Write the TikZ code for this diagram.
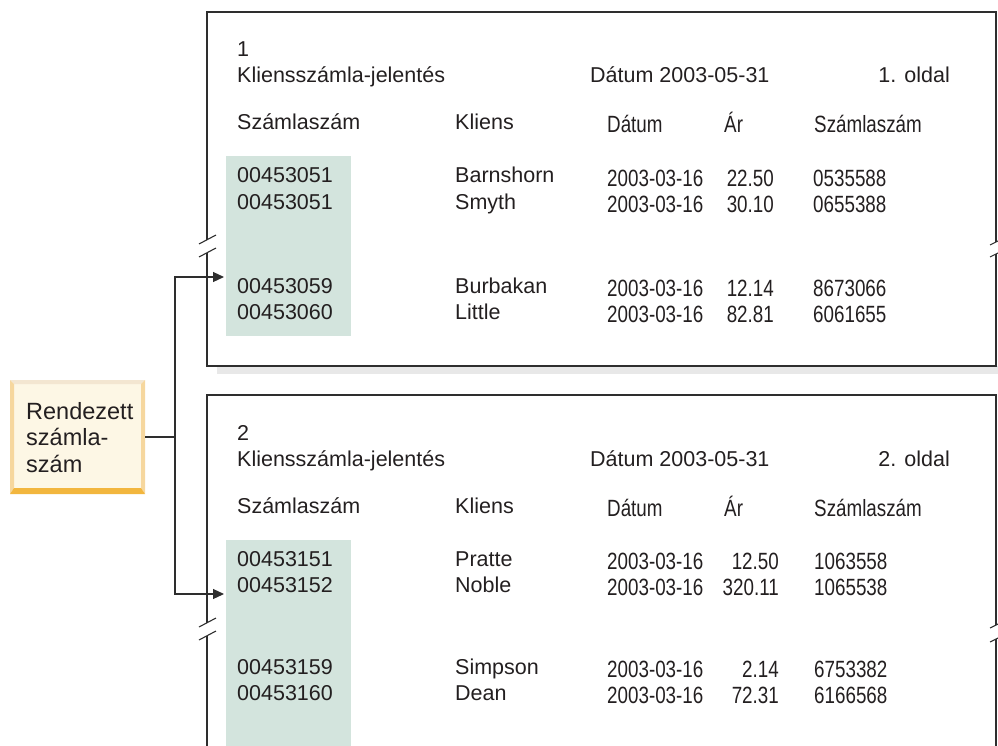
\documentclass[tikz,border=0pt]{standalone}
\usepackage{fontspec}
\setmainfont{Liberation Sans}
\newfontfamily\narrowfont[FakeStretch=0.8]{Liberation Sans}
\usepackage{xcolor}
\usetikzlibrary{arrows.meta}

\definecolor{ink}{HTML}{231F20}
\definecolor{rule}{HTML}{2E2E2E}
\definecolor{keygreen}{HTML}{D3E4DD}
\definecolor{keycream}{HTML}{FDF7E5}
\definecolor{keytop}{HTML}{F3E6D1}
\definecolor{keyside}{HTML}{F6D79E}
\definecolor{keybottom}{HTML}{F2B63E}

\tikzset{
  cell/.style={anchor=base west, inner sep=0pt, text=ink},
  ncell/.style={cell, font=\fontsize{23.5}{28}\narrowfont},
  pageline/.style={draw=rule, line width=1.4pt},
  keyline/.style={draw=rule, line width=1.2pt},
  brk/.style={draw=rule, line width=1.1pt}
}

\begin{document}
\begin{tikzpicture}[x=1pt,y=-1pt,font=\fontsize{21.5}{26}\selectfont]
\useasboundingbox (0,0) rectangle (998,746);

% page 1
\fill[gray!18] (217,366) rectangle (998,374);
\fill[keygreen] (226,156) rectangle (351,336);
\draw[pageline] (207,239.5) -- (207,12) -- (996,12) -- (996,242);
\draw[pageline] (207,252.5) -- (207,366) -- (996,366) -- (996,254);
\draw[brk] (199,244) -- (216,235);
\draw[brk] (199,257) -- (216,248);
\draw[brk] (990,245) -- (1002,239);
\draw[brk] (990,257) -- (1002,251);

\node[cell] (num1) at (237,57) {1};
\node[cell] (title1) at (237,83) {Kliensszámla-jelentés};
\node[cell] (date1) at (590,83) {Dátum 2003-05-31};
\node[cell,anchor=base east] (page1) at (950,83) {1. oldal};

\node[cell] (hacc1) at (237,130) {Számlaszám};
\node[cell] (hcli1) at (455,130) {Kliens};
\node[ncell] (hdat1) at (607,133) {Dátum};
\node[ncell] (hpr1) at (724,133) {Ár};
\node[ncell] (href1) at (814,133) {Számlaszám};

\foreach \n/\y/\acc/\cli/\dat/\pr/\ref in {
    a/183/00453051/Barnshorn/2003-03-16/22.50/0535588,
    b/209/00453051/Smyth/2003-03-16/30.10/0655388,
    c/293/00453059/Burbakan/2003-03-16/12.14/8673066,
    d/319/00453060/Little/2003-03-16/82.81/6061655}{
  \node[cell] (acc\n) at (237,\y) {\acc};
  \node[cell] (cli\n) at (455,\y) {\cli};
  \node[ncell] (dat\n) at (607,\y+3) {\dat};
  \node[ncell,anchor=base east] (pr\n) at (774,\y+3) {\pr};
  \node[ncell] (ref\n) at (813,\y+3) {\ref};
}

% page 2
\fill[keygreen] (226,540) rectangle (351,746);
\draw[pageline] (207,622.5) -- (207,395) -- (996,395) -- (996,625);
\draw[pageline] (207,635.5) -- (207,750);
\draw[pageline] (996,639) -- (996,750);
\draw[brk] (199,627) -- (216,618);
\draw[brk] (199,640) -- (216,631);
\draw[brk] (990,628) -- (1002,622);
\draw[brk] (990,642) -- (1002,636);

\node[cell] (num2) at (237,440) {2};
\node[cell] (title2) at (237,466) {Kliensszámla-jelentés};
\node[cell] (date2) at (590,466) {Dátum 2003-05-31};
\node[cell,anchor=base east] (page2) at (950,466) {2. oldal};

\node[cell] (hacc2) at (237,513) {Számlaszám};
\node[cell] (hcli2) at (455,513) {Kliens};
\node[ncell] (hdat2) at (607,516) {Dátum};
\node[ncell] (hpr2) at (724,516) {Ár};
\node[ncell] (href2) at (814,516) {Számlaszám};

\foreach \n/\y/\acc/\cli/\dat/\pr/\ref in {
    e/566/00453151/Pratte/2003-03-16/12.50/1063558,
    f/592/00453152/Noble/2003-03-16/320.11/1065538,
    g/674/00453159/Simpson/2003-03-16/2.14/6753382,
    h/700/00453160/Dean/2003-03-16/72.31/6166568}{
  \node[cell] (acc\n) at (237,\y) {\acc};
  \node[cell] (cli\n) at (455,\y) {\cli};
  \node[ncell] (dat\n) at (607,\y+3) {\dat};
  \node[ncell,anchor=base east] (pr\n) at (779,\y+3) {\pr};
  \node[ncell] (ref\n) at (814,\y+3) {\ref};
}

% sort key box
\node[fill=keycream, minimum width=135pt, minimum height=114pt, inner sep=0pt] (sortkey) at (77.5,437) {};
\fill[keytop] (10,380) -- (145,380) -- (141,384) -- (14,384) -- cycle;
\fill[keyside] (10,380) -- (14,384) -- (14,488) -- (10,494) -- cycle;
\fill[keyside] (145,380) -- (141,384) -- (141,488) -- (145,494) -- cycle;
\fill[keybottom] (10,494) -- (14,488) -- (141,488) -- (145,494) -- cycle;
\node[cell,font=\fontsize{23.5}{26.5}\selectfont,align=left,anchor=north west] (sortlabel) at (26,402) {Rendezett\\számla-\\szám};

\coordinate (fork) at (175,437);
\coordinate (tgt1) at (224,277);
\coordinate (tgt2) at (224,594);
\draw[keyline] (sortkey.east) -- (fork);
\draw[keyline,-{Triangle[length=11pt,width=10pt]}] (fork) |- (tgt1);
\draw[keyline,-{Triangle[length=11pt,width=10pt]}] (fork) |- (tgt2);
\end{tikzpicture}
\end{document}
